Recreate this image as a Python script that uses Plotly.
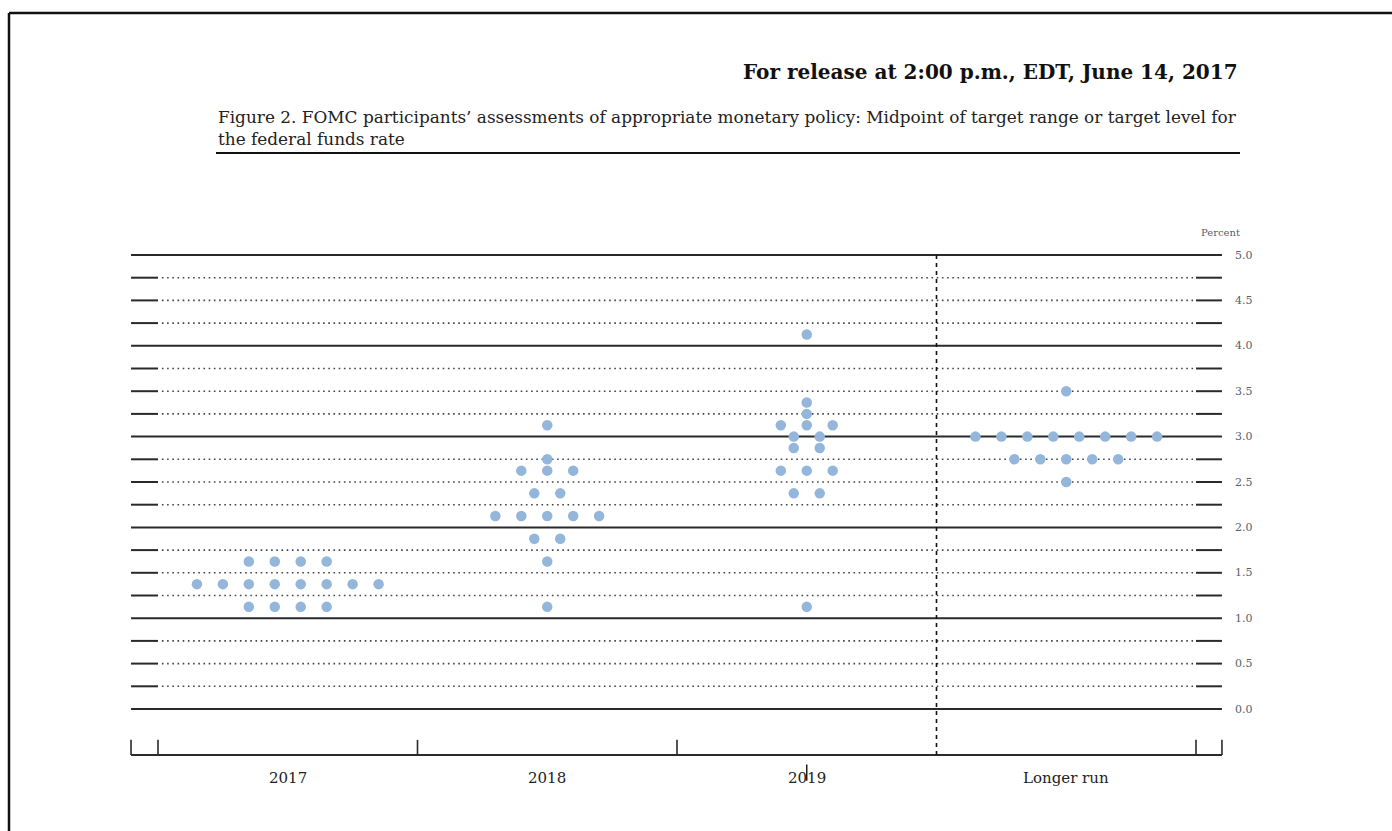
import plotly.graph_objects as go

# ---------------- data ----------------
categories = ["2017", "2018", "2019", "Longer run"]

rates_2017 = [1.125, 1.375, 1.625]
counts_2017 = [4, 8, 4]

rates_2018 = [1.125, 1.625, 1.875, 2.125, 2.375, 2.625, 2.75, 3.125]
counts_2018 = [1, 1, 2, 5, 2, 3, 1, 1]

rates_2019 = [1.125, 2.375, 2.625, 2.875, 3.0, 3.125, 3.25, 3.375, 4.125]
counts_2019 = [1, 2, 3, 2, 2, 3, 1, 1, 1]

rates_lr = [2.5, 2.75, 3.0, 3.5]
counts_lr = [1, 5, 8, 1]

y_ticks = [0.0, 0.5, 1.0, 1.5, 2.0, 2.5, 3.0, 3.5, 4.0, 4.5, 5.0]
y_tick_labels = ["0.0", "0.5", "1.0", "1.5", "2.0", "2.5", "3.0", "3.5", "4.0", "4.5", "5.0"]

title = "For release at 2:00 p.m., EDT, June 14, 2017"
caption1 = ("Figure 2. FOMC participants\u2019 assessments of appropriate monetary policy: "
            "Midpoint of target range or target level for")
caption2 = "the federal funds rate"

# ---------------- geometry (pixels -> data) ----------------
W, H = 1392, 831
X0PX, XUNIT = 158.0, 259.5   # x=0 at 158 px, one category = 259.5 px
Y0PX, YUNIT = 709.0, 90.8    # y=0 at 709 px, one percent = 90.8 px
x_range = [-X0PX / XUNIT, (W - X0PX) / XUNIT]
y_range = [(Y0PX - H) / YUNIT, Y0PX / YUNIT]

SERIF = "DejaVu Serif, Liberation Serif, serif"
DOT_COLOR = "#94b6da"
LINE_COLOR = "#2a2a2a"

fig = go.Figure()

x_left, x_right = -0.104, 4.1
x_in_left, x_in_right = 0.0, 4.0

# horizontal grid lines
quarter_levels = [i * 0.25 for i in range(0, 21)]
for lev in quarter_levels:
    if abs(lev - round(lev)) < 1e-9:
        fig.add_trace(go.Scatter(x=[x_left, x_right], y=[lev, lev], mode="lines",
                                 line=dict(color=LINE_COLOR, width=2),
                                 hoverinfo="skip", showlegend=False))
    else:
        fig.add_trace(go.Scatter(x=[x_left, x_in_left], y=[lev, lev], mode="lines",
                                 line=dict(color=LINE_COLOR, width=2),
                                 hoverinfo="skip", showlegend=False))
        fig.add_trace(go.Scatter(x=[x_in_left + 0.015, x_in_right - 0.005], y=[lev, lev], mode="lines",
                                 line=dict(color="#444444", width=1.6, dash="1.6px,3.6px"),
                                 hoverinfo="skip", showlegend=False))
        fig.add_trace(go.Scatter(x=[x_in_right, x_right], y=[lev, lev], mode="lines",
                                 line=dict(color=LINE_COLOR, width=2),
                                 hoverinfo="skip", showlegend=False))

# bottom axis line with ticks
axis_y = -0.5066
tick_top = -0.34
fig.add_trace(go.Scatter(x=[x_left, x_right], y=[axis_y, axis_y], mode="lines",
                         line=dict(color=LINE_COLOR, width=2), hoverinfo="skip", showlegend=False))
for xt in [x_left, 0.0, 1.0, 2.0, 4.0, x_right]:
    fig.add_trace(go.Scatter(x=[xt, xt], y=[axis_y, tick_top], mode="lines",
                             line=dict(color=LINE_COLOR, width=1.6), hoverinfo="skip", showlegend=False))

# dashed vertical separator before "Longer run"
fig.add_trace(go.Scatter(x=[3.0, 3.0], y=[5.0, axis_y], mode="lines",
                         line=dict(color="#111111", width=1.6, dash="4px,4px"),
                         hoverinfo="skip", showlegend=False))

# stray small mark at "2019" label
fig.add_trace(go.Scatter(x=[2.5, 2.5], y=[-0.61, -0.79], mode="lines",
                         line=dict(color="#111111", width=1.4), hoverinfo="skip", showlegend=False))

# dots
SPACING = 0.1
groups = [(rates_2017, counts_2017), (rates_2018, counts_2018),
          (rates_2019, counts_2019), (rates_lr, counts_lr)]
for ci, (rates, counts) in enumerate(groups):
    xs, ys = [], []
    center = ci + 0.5
    for r, n in zip(rates, counts):
        for j in range(n):
            xs.append(center + (j - (n - 1) / 2) * SPACING)
            ys.append(r)
    fig.add_trace(go.Scatter(x=xs, y=ys, mode="markers", name=categories[ci],
                             marker=dict(color=DOT_COLOR, size=10.5, symbol="circle",
                                         line=dict(width=0)),
                             showlegend=False))

annotations = []
# y tick labels at right
for v, lab in zip(y_ticks, y_tick_labels):
    annotations.append(dict(x=(1233 - X0PX) / XUNIT, y=v, xref="x", yref="y", text=lab,
                            showarrow=False, xanchor="left", yanchor="middle",
                            font=dict(family=SERIF, size=11, color="#5a5f6a")))
annotations.append(dict(x=(1220 - X0PX) / XUNIT, y=5.25, xref="x", yref="y", text="Percent",
                        showarrow=False, xanchor="center", yanchor="middle",
                        font=dict(family=SERIF, size=10, color="#5a5f6a")))
# category labels
for ci, cat in enumerate(categories):
    annotations.append(dict(x=ci + 0.5, y=-0.76, xref="x", yref="y", text=cat, showarrow=False,
                            xanchor="center", yanchor="middle",
                            font=dict(family=SERIF, size=15, color="#222222")))

# title & caption
annotations.append(dict(x=1240 / W, y=1 - 72 / H, xref="paper", yref="paper", text="<b>" + title + "</b>",
                        showarrow=False, xanchor="right", yanchor="middle",
                        font=dict(family=SERIF, size=20, color="#111111")))
annotations.append(dict(x=216 / W, y=1 - 117 / H, xref="paper", yref="paper", text=caption1,
                        showarrow=False, xanchor="left", yanchor="middle",
                        font=dict(family=SERIF, size=16.9, color="#222222")))
annotations.append(dict(x=216 / W, y=1 - 139 / H, xref="paper", yref="paper", text=caption2,
                        showarrow=False, xanchor="left", yanchor="middle",
                        font=dict(family=SERIF, size=16.9, color="#222222")))

shapes = [
    # caption underline
    dict(type="line", xref="paper", yref="paper", x0=216 / W, x1=1240 / W,
         y0=1 - 153 / H, y1=1 - 153 / H, line=dict(color="#111111", width=2)),
    # page frame (top and left)
    dict(type="line", xref="paper", yref="paper", x0=9 / W, x1=1.0,
         y0=1 - 13 / H, y1=1 - 13 / H, line=dict(color="#111111", width=2.5)),
    dict(type="line", xref="paper", yref="paper", x0=9 / W, x1=9 / W,
         y0=0.0, y1=1 - 13 / H, line=dict(color="#111111", width=2.5)),
]

fig.update_layout(
    width=W, height=H,
    margin=dict(l=0, r=0, t=0, b=0),
    paper_bgcolor="white", plot_bgcolor="white",
    xaxis=dict(range=x_range, visible=False, fixedrange=True),
    yaxis=dict(range=y_range, visible=False, fixedrange=True),
    annotations=annotations,
    shapes=shapes,
    showlegend=False,
)

fig.write_html("out.html", config={"displayModeBar": False},
               post_script="document.body.style.margin='0';")
